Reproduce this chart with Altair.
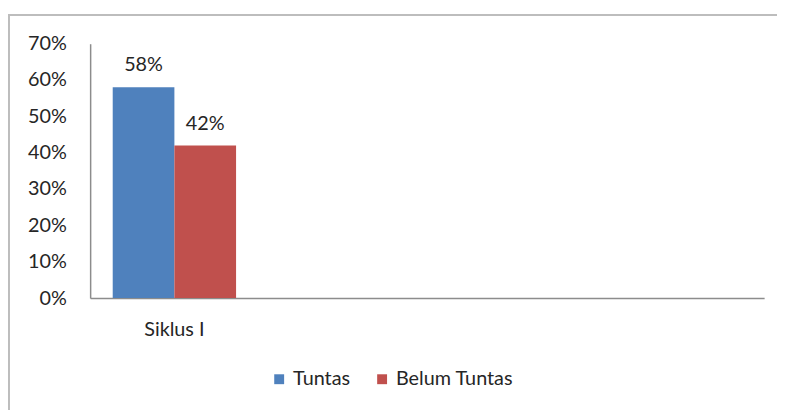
import altair as alt
import pandas as pd

categories = ["Siklus I"]
slots = ["Siklus I", " ", "  ", "   "]
series = ["Tuntas", "Belum Tuntas"]
values = [0.58, 0.42]
colors = ["#4F81BD", "#C0504D"]
y_ticks = [0, 0.1, 0.2, 0.3, 0.4, 0.5, 0.6, 0.7]

df = pd.DataFrame({
    "cat": [categories[0]] * len(series),
    "series": series,
    "value": values,
})

FONT = "Lato"
GRAY = "#8c8c8c"
TXT = "#262626"
FS = 20

x_enc = alt.X("cat:N", scale=alt.Scale(domain=slots, paddingInner=0, paddingOuter=0),
              axis=alt.Axis(title=None, labelAngle=0, ticks=False, domainColor=GRAY,
                            domainWidth=1.5, labelPadding=22, labelFontSize=FS,
                            labelFont=FONT, labelColor=TXT))
xo_enc = alt.XOffset("series:N", scale=alt.Scale(domain=series, paddingOuter=0.366, paddingInner=0))
y_enc = alt.Y("value:Q", scale=alt.Scale(domain=[0, 0.7]),
              axis=alt.Axis(title=None, values=y_ticks, format=".0%", ticks=False, grid=False,
                            domainColor=GRAY, domainWidth=1.5, labelPadding=24,
                            labelFontSize=FS, labelFont=FONT, labelColor=TXT))

frame = alt.Chart(pd.DataFrame({"a": [0]})).mark_rect(
    fill=None, stroke="#bdbdbd", strokeWidth=2, clip=False
).encode(x=alt.value(-82), x2=alt.value(800), y=alt.value(-29), y2=alt.value(420))

bars = alt.Chart(df).mark_bar().encode(
    x=x_enc, xOffset=xo_enc, y=y_enc,
    color=alt.Color("series:N", scale=alt.Scale(domain=series, range=colors),
                    sort=series,
                    legend=alt.Legend(title=None, orient="none", direction="horizontal",
                                      legendX=181, legendY=329, symbolType="square",
                                      symbolSize=100, symbolStrokeWidth=0,
                                      labelFontSize=FS, labelFont=FONT, labelColor=TXT,
                                      columnPadding=22, labelOffset=4)),
)

labels = alt.Chart(df).mark_text(dy=-16, baseline="alphabetic", fontSize=FS, font=FONT,
                                 color=TXT).encode(
    x=x_enc, xOffset=xo_enc, y=y_enc,
    text=alt.Text("value:Q", format=".0%"),
)

chart = alt.layer(frame, bars, labels).properties(
    width=681, height=257,
    autosize=alt.AutoSizeParams(type="none"),
    padding={"left": 83, "top": 34, "right": 13, "bottom": 111},
).configure(background="white").configure_view(stroke=None)

chart.save("out.html", embed_options={"renderer": "svg", "actions": False})
